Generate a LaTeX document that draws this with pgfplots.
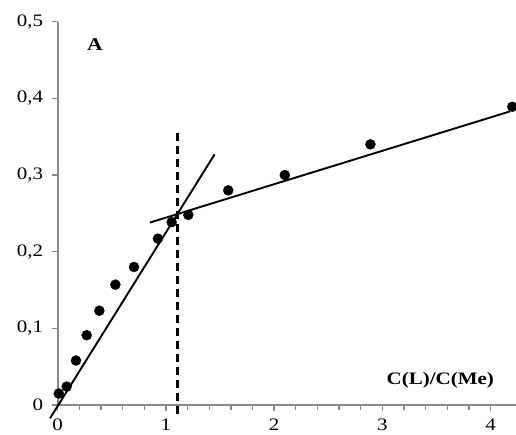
\documentclass[border=0pt]{standalone}
\usepackage{fontspec}
\setmainfont{Liberation Serif}[FakeStretch=1.2]
\usepackage{pgfplots}
\pgfplotsset{compat=1.18}
\definecolor{axisgray}{RGB}{137,137,137}
\begin{document}
\begin{tikzpicture}
\path[use as bounding box] (-57.7pt,-30pt) rectangle (458.3pt,405pt);
\begin{axis}[
  scale only axis,
  width=458.3pt, height=383.3pt,
  xmin=0, xmax=4.235, ymin=0, ymax=0.5,
  clip=false,
  axis x line*=bottom, axis y line*=left,
  axis line style={axisgray, line width=1.8pt},
  tick align=outside,
  major tick length=6pt, minor tick length=5pt,
  every tick/.style={axisgray, line width=1.4pt},
  xtick={0,1,2,3,4}, minor x tick num=4,
  ytick={0,0.1,0.2,0.3,0.4,0.5},
  /pgf/number format/assume math mode=true,
  /pgf/number format/.cd, use comma, fixed, /pgfplots/.cd,
  every tick label/.append style={font=\fontsize{17.5}{20}\selectfont, text=black},
  yticklabel style={xshift=-5pt},
  xticklabel style={yshift=-4pt},
]
\addplot[only marks, mark=*, mark size=5pt, black] coordinates {
(0.01,0.015) (0.083,0.024) (0.169,0.058) (0.268,0.091) (0.385,0.123)
(0.533,0.157) (0.705,0.180) (0.926,0.217) (1.053,0.2385) (1.207,0.248)
(1.576,0.280) (2.099,0.300) (2.89,0.340) (4.20,0.389)
};
\addplot[black, line width=1.9pt] coordinates {(-0.071,-0.0174) (1.45,0.327)};
\addplot[black, line width=1.9pt] coordinates {(0.852,0.238) (4.18,0.383)};
\addplot[black, line width=2.8pt, dash pattern=on 8pt off 5pt] coordinates {(1.105,0.355) (1.105,-0.012)};
\node[font=\fontsize{18}{20}\selectfont\bfseries] at (axis cs:0.344,0.47) {A};
\node[font=\fontsize{17.5}{20}\selectfont\bfseries] at (axis cs:3.535,0.0326) {C(L)/C(Me)};
\end{axis}
\end{tikzpicture}
\end{document}
